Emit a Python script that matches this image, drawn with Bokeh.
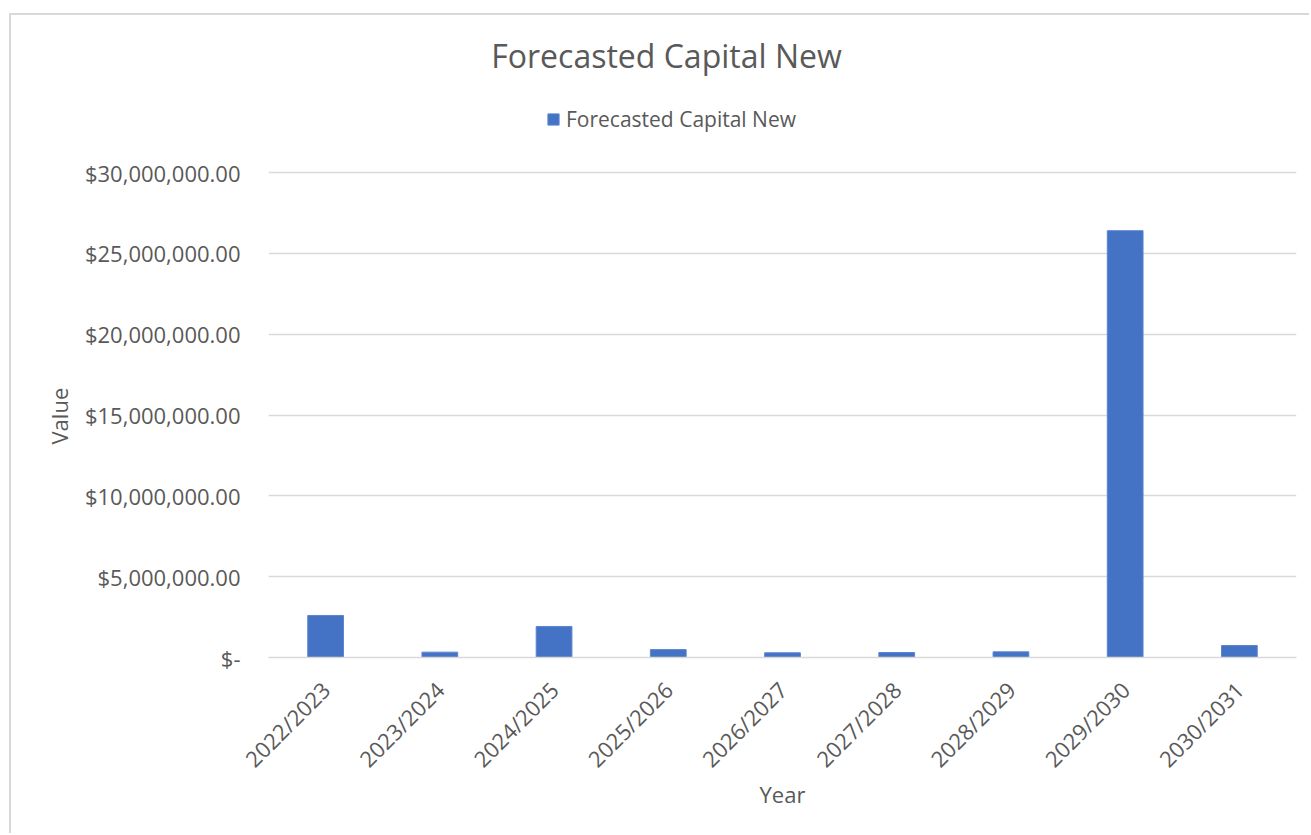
import math
from bokeh.plotting import figure
from bokeh.models import (FactorRange, Range1d, FixedTicker, Title, Legend, LegendItem, Label)
from bokeh.embed import file_html
from bokeh.resources import INLINE

years = ["2022/2023", "2023/2024", "2024/2025", "2025/2026", "2026/2027",
         "2027/2028", "2028/2029", "2029/2030", "2030/2031"]
forecasted_capital_new = [2600000, 330000, 1920000, 490000, 290000,
                          310000, 350000, 26400000, 740000]
y_ticks = [0, 5000000, 10000000, 15000000, 20000000, 25000000, 30000000]
y_tick_labels = ["$-", "$5,000,000.00", "$10,000,000.00", "$15,000,000.00",
                 "$20,000,000.00", "$25,000,000.00", "$30,000,000.00"]
chart_title = "Forecasted Capital New"
series_name = "Forecasted Capital New"
x_title = "Year"
y_title = "Value"

FONT = "Open Sans"
TXT = "#595959"
GRID = "#d9d9d9"
BAR = "#4472C4"

# layout constants (page px)
OX, OY = 11, 15          # canvas origin
W, H = 1300, 820         # canvas size
FL, FR = 268, 1296       # frame left / right
FT, FB = 20, 657         # frame top / bottom (frame extended up to hold title & legend)
AXIS_TOP = 172           # where the top tick (30M) sits
y_end = y_ticks[-1] * (FB - FT) / (FB - AXIS_TOP)


def fx(px):
    return px - FL


def fy(py):
    return FB - py


p = figure(width=W, height=H, x_range=FactorRange(*years, range_padding=0),
           y_range=Range1d(0, y_end), output_backend="svg", toolbar_location=None,
           min_border_left=FL - OX, min_border_right=(OX + W) - FR,
           min_border_top=FT - OY, min_border_bottom=(OY + H) - FB,
           margin=(13, 0, 0, 9), title=None)
p.styles = {"border-left": "2px solid #d9d9d9", "border-top": "2px solid #d9d9d9"}
p.outline_line_color = None
p.background_fill_color = "white"
p.border_fill_color = "white"

bars = p.vbar(x=years, top=forecasted_capital_new, width=0.313,
              fill_color=BAR, line_color="#5b85d0", line_width=1)

p.xgrid.grid_line_color = None
p.ygrid.grid_line_color = GRID
p.ygrid.grid_line_width = 1.3

p.yaxis.ticker = FixedTicker(ticks=y_ticks)
p.yaxis.major_label_overrides = {t: l for t, l in zip(y_ticks, y_tick_labels)}
p.yaxis.axis_line_color = None
p.yaxis.major_tick_line_color = None
p.yaxis.minor_tick_line_color = None
p.yaxis.major_label_standoff = 22
p.yaxis.major_label_text_font = FONT
p.yaxis.major_label_text_font_size = "22px"
p.yaxis.major_label_text_color = TXT

p.xaxis.axis_line_color = GRID
p.xaxis.axis_line_width = 1.5
p.xaxis.major_tick_line_color = None
p.xaxis.minor_tick_line_color = None
p.xaxis.major_label_orientation = math.pi / 4
p.xaxis.major_label_standoff = 22
p.xaxis.major_label_text_font = FONT
p.xaxis.major_label_text_font_size = "22px"
p.xaxis.major_label_text_color = TXT
p.xaxis.axis_label = x_title
p.xaxis.axis_label_standoff = -8
p.xaxis.axis_label_text_font = FONT
p.xaxis.axis_label_text_font_size = "22px"
p.xaxis.axis_label_text_font_style = "normal"
p.xaxis.axis_label_text_color = TXT

# y-axis title in the left panel, placed at the middle of the value scale
ytitle = Title(text=y_title, align="left", offset=FB - 444,
               text_font=FONT, text_font_size="22px", text_font_style="normal",
               text_color=TXT, standoff=16)
p.add_layout(ytitle, "left")

legend = Legend(items=[LegendItem(label=series_name, renderers=[bars])],
                location=(fx(546), fy(120) - 13), orientation="horizontal",
                border_line_color=None, background_fill_alpha=0,
                glyph_width=14, glyph_height=14, label_standoff=6,
                padding=0, margin=0, spacing=0, label_height=26,
                label_text_font=FONT, label_text_font_size="21px",
                label_text_color=TXT)
p.add_layout(legend, "center")

p.add_layout(Label(x=fx(666), y=fy(55), x_units="screen", y_units="screen",
                   text=chart_title, text_align="center", text_baseline="alphabetic",
                   text_font=FONT, text_font_size="32px", text_color=TXT))

open("out.html", "w").write(file_html(p, INLINE))
